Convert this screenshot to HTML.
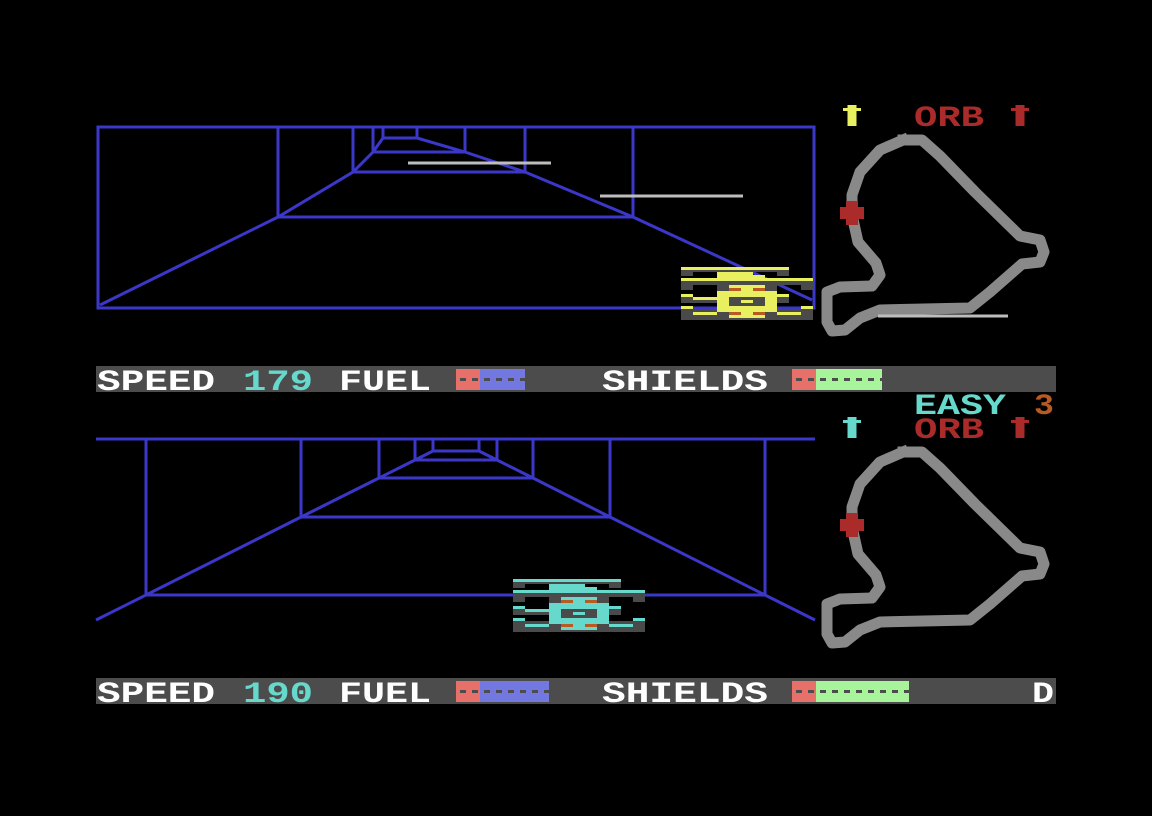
<!DOCTYPE html>
<html><head><meta charset="utf-8"><style>
html,body{margin:0;padding:0;background:#000;}
svg{display:block}
text{font-family:"Liberation Mono","DejaVu Sans Mono",monospace;font-weight:bold;}
</style></head><body>
<svg width="1152" height="816" viewBox="0 0 1152 816" xmlns="http://www.w3.org/2000/svg">
<defs>
<g id="track" fill="none" stroke="#898989" stroke-width="11" stroke-linejoin="round" stroke-linecap="square">
<polyline points="903,140 922,140 940,156 975,192 1020,236 1040,240 1044,252 1040,262 1022,264 990,292 970,308 880,310 860,318 845,330 832,331 827,322 827,292 840,287 872,286 880,275 876,263 858,242 852,215 852,195 860,172 880,150 903,140"/>
</g>
<g id="car">
<rect x="0" y="3" width="108" height="2" fill="#4a4a4a"/>
<rect x="0" y="3" width="12" height="6" fill="#4a4a4a"/>
<rect x="96" y="3" width="12" height="6" fill="#4a4a4a"/>
<rect x="0" y="0" width="108" height="3" fill="var(--c)"/>
<rect x="36" y="5" width="36" height="10" fill="var(--c)"/>
<rect x="72" y="8" width="12" height="6" fill="var(--c)"/>
<rect x="0" y="14" width="132" height="4" fill="#4a4a4a"/>
<rect x="0" y="14" width="12" height="9" fill="#4a4a4a"/>
<rect x="120" y="14" width="12" height="9" fill="#4a4a4a"/>
<rect x="0" y="11" width="132" height="3" fill="var(--c)"/>
<rect x="36" y="18" width="60" height="35" fill="#4a4a4a"/>
<rect x="48" y="18" width="36" height="33" fill="var(--c)"/>
<rect x="36" y="24" width="60" height="21" fill="var(--c)"/>
<rect x="48" y="21" width="12" height="3" fill="#b85a22"/>
<rect x="72" y="21" width="12" height="3" fill="#b85a22"/>
<rect x="48" y="45" width="12" height="3" fill="#b85a22"/>
<rect x="72" y="45" width="12" height="3" fill="#b85a22"/>
<rect x="48" y="30" width="36" height="9" fill="#4a4a4a"/>
<rect x="60" y="33" width="12" height="3" fill="var(--c)"/>
<rect x="0" y="30" width="36" height="6" fill="#4a4a4a"/>
<rect x="0" y="27" width="12" height="3" fill="var(--c)"/>
<rect x="12" y="30" width="24" height="3" fill="var(--c)"/>
<rect x="96" y="27" width="12" height="9" fill="#4a4a4a"/>
<rect x="96" y="27" width="12" height="3" fill="var(--c)"/>
<rect x="0" y="42" width="36" height="11" fill="#4a4a4a"/>
<rect x="0" y="39" width="12" height="3" fill="var(--c)"/>
<rect x="12" y="45" width="24" height="3" fill="var(--c)"/>
<rect x="96" y="42" width="36" height="11" fill="#4a4a4a"/>
<rect x="120" y="39" width="12" height="3" fill="var(--c)"/>
<rect x="96" y="45" width="24" height="3" fill="var(--c)"/>
</g>
<path id="arrow" d="M3,0h6v3h3v3h-3v15h-6v-15h-3v-3h3z"/>
</defs>

<!-- TOP VIEW -->
<g fill="none" stroke="#3b37c8" stroke-width="3">
<rect x="98" y="127" width="716" height="181"/>
<rect x="278" y="127" width="355" height="90"/>
<rect x="353" y="127" width="172" height="45"/>
<rect x="373" y="127" width="92" height="25"/>
<rect x="383" y="127" width="34" height="11"/>
<polyline points="100,305 278,217 353,172 373,152 383,138"/>
<polyline points="812,300 633,217 525,172 465,152 417,138"/>
</g>
<g stroke="#bdbdbd" stroke-width="3">
<line x1="408" y1="163" x2="551" y2="163"/>
<line x1="600" y1="196" x2="743" y2="196"/>
</g>
<use href="#track"/>
<line x1="878" y1="316" x2="1008" y2="316" stroke="#bdbdbd" stroke-width="3"/>
<path d="M846,201h12v6h6v12h-6v6h-12v-6h-6v-12h6z" fill="#ab2a2a"/>
<g style="--c:#e8f060"><use href="#car" x="681" y="267"/></g>
<g fill="#e8f060" transform="translate(843,105) scale(1.5,1)"><use href="#arrow"/></g>
<g fill="#ab2a2a" transform="translate(1011,105) scale(1.5,1)"><use href="#arrow"/></g>
<text x="914" y="126" font-size="30" fill="#ab2a2a" textLength="70" lengthAdjust="spacingAndGlyphs">ORB</text>

<!-- TOP HUD -->
<rect x="96" y="366" width="960" height="26" fill="#4c4c4c"/>
<text x="97" y="390" font-size="30" fill="#fff" textLength="118" lengthAdjust="spacingAndGlyphs">SPEED</text>
<text x="243" y="390" font-size="30" fill="#66d8cc" textLength="70" lengthAdjust="spacingAndGlyphs">179</text>
<text x="339" y="390" font-size="30" fill="#fff" textLength="92" lengthAdjust="spacingAndGlyphs">FUEL</text>
<rect x="456" y="369" width="24" height="21" fill="#e8706a"/>
<rect x="480" y="369" width="45" height="21" fill="#7278e0"/>
<line x1="460" y1="379.5" x2="525" y2="379.5" stroke="#4c4c4c" stroke-width="3" stroke-dasharray="6,6"/>
<text x="602" y="390" font-size="30" fill="#fff" textLength="166" lengthAdjust="spacingAndGlyphs">SHIELDS</text>
<rect x="792" y="369" width="24" height="21" fill="#e8706a"/>
<rect x="816" y="369" width="66" height="21" fill="#a8f49a"/>
<line x1="796" y1="379.5" x2="882" y2="379.5" stroke="#4c4c4c" stroke-width="3" stroke-dasharray="6,6"/>
<text x="914" y="414" font-size="30" fill="#66d8cc" textLength="92" lengthAdjust="spacingAndGlyphs">EASY</text>
<text x="1034" y="414" font-size="30" fill="#b85a22" textLength="20" lengthAdjust="spacingAndGlyphs">3</text>

<!-- BOTTOM VIEW -->
<g fill="none" stroke="#3b37c8" stroke-width="3">
<line x1="96" y1="439" x2="815" y2="439"/>
<rect x="146" y="439" width="619" height="156"/>
<rect x="301" y="439" width="309" height="78"/>
<rect x="379" y="439" width="154" height="39"/>
<rect x="415" y="439" width="82" height="21"/>
<rect x="433" y="439" width="46" height="12"/>
<polyline points="96,620 146,595 301,517 379,478 415,460 433,451"/>
<polyline points="815,620 765,595 610,517 533,478 497,460 479,451"/>
</g>
<g transform="translate(0,312)"><use href="#track"/></g>
<path d="M846,513h12v6h6v12h-6v6h-12v-6h-6v-12h6z" fill="#ab2a2a"/>
<g style="--c:#66d8cc"><use href="#car" x="513" y="579"/></g>
<g fill="#66d8cc" transform="translate(843,417) scale(1.5,1)"><use href="#arrow"/></g>
<g fill="#ab2a2a" transform="translate(1011,417) scale(1.5,1)"><use href="#arrow"/></g>
<text x="914" y="438" font-size="30" fill="#ab2a2a" textLength="70" lengthAdjust="spacingAndGlyphs">ORB</text>

<!-- BOTTOM HUD -->
<rect x="96" y="678" width="960" height="26" fill="#4c4c4c"/>
<text x="97" y="702" font-size="30" fill="#fff" textLength="118" lengthAdjust="spacingAndGlyphs">SPEED</text>
<text x="243" y="702" font-size="30" fill="#66d8cc" textLength="70" lengthAdjust="spacingAndGlyphs">190</text>
<text x="339" y="702" font-size="30" fill="#fff" textLength="92" lengthAdjust="spacingAndGlyphs">FUEL</text>
<rect x="456" y="681" width="24" height="21" fill="#e8706a"/>
<rect x="480" y="681" width="69" height="21" fill="#7278e0"/>
<line x1="460" y1="691.5" x2="549" y2="691.5" stroke="#4c4c4c" stroke-width="3" stroke-dasharray="6,6"/>
<text x="602" y="702" font-size="30" fill="#fff" textLength="166" lengthAdjust="spacingAndGlyphs">SHIELDS</text>
<rect x="792" y="681" width="24" height="21" fill="#e8706a"/>
<rect x="816" y="681" width="93" height="21" fill="#a8f49a"/>
<line x1="796" y1="691.5" x2="909" y2="691.5" stroke="#4c4c4c" stroke-width="3" stroke-dasharray="6,6"/>
<text x="1032" y="702" font-size="30" fill="#fff" textLength="22" lengthAdjust="spacingAndGlyphs">D</text>
</svg>
</body></html>
